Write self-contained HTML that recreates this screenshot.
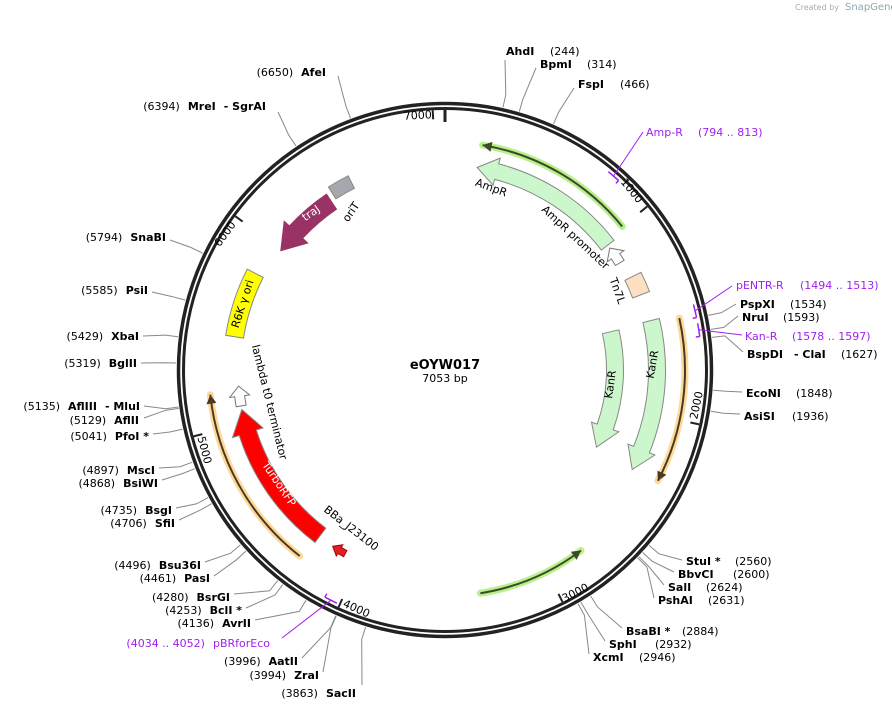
<!DOCTYPE html>
<html><head><meta charset="utf-8"><style>
html,body{margin:0;padding:0;background:#fff;width:892px;height:711px;overflow:hidden}
svg{display:block}
text{font-family:"DejaVu Sans","Liberation Sans",sans-serif;font-size:11px;fill:#000}
.b{font-weight:bold}
.p{fill:#a020f0}
</style></head><body>
<svg id="s" width="892" height="711" viewBox="0 0 892 711" xmlns="http://www.w3.org/2000/svg">
<g id="g"></g>
<text x="795" y="10" style="font-size:8px;fill:#aaa">Created by</text>
<text x="845" y="10" style="font-size:10px;fill:#8aa">SnapGene</text>

<text transform="translate(418,119) rotate(-3)" text-anchor="middle">7000</text>
<text transform="translate(629,193) rotate(51)" text-anchor="middle">1000</text>
<text transform="translate(700,406) rotate(-78)" text-anchor="middle">2000</text>
<text transform="translate(577,596) rotate(-27)" text-anchor="middle">3000</text>
<text transform="translate(355,612) rotate(24)" text-anchor="middle">4000</text>
<text transform="translate(201,451) rotate(75)" text-anchor="middle">5000</text>
<text transform="translate(228,236) rotate(-54)" text-anchor="middle">6000</text>

<text x="445" y="369" text-anchor="middle" class="b" style="font-size:13px">eOYW017</text>
<text x="445" y="382" text-anchor="middle">7053 bp</text>

<text transform="translate(490,191) rotate(20)" text-anchor="middle">AmpR</text>
<text transform="translate(573,240) rotate(43)" text-anchor="middle">AmpR promoter</text>
<text transform="translate(614,292) rotate(70)" text-anchor="middle">Tn7L</text>
<text transform="translate(614,385) rotate(-82)" text-anchor="middle">KanR</text>
<text transform="translate(656,365) rotate(-80)" text-anchor="middle">KanR</text>
<text transform="translate(313,216) rotate(-35)" text-anchor="middle" style="fill:#fff">traJ</text>
<text transform="translate(354,214) rotate(-55)" text-anchor="middle">oriT</text>
<text transform="translate(246,305) rotate(-72)" text-anchor="middle">R6K γ ori</text>
<text transform="translate(266,403) rotate(76)" text-anchor="middle">lambda t0 terminator</text>
<text id="rfp" transform="translate(276,486) rotate(56)" text-anchor="middle" style="fill:#fff">TurboRFP</text>
<text transform="translate(349,531) rotate(38)" text-anchor="middle">BBa_J23100</text>

<text x="506" y="55"><tspan class="b">AhdI</tspan><tspan x="550">(244)</tspan></text>
<text x="540" y="68"><tspan class="b">BpmI</tspan><tspan x="587">(314)</tspan></text>
<text x="578" y="88"><tspan class="b">FspI</tspan><tspan x="620">(466)</tspan></text>
<text x="646" y="136" class="p">Amp-R<tspan x="698">(794 .. 813)</tspan></text>
<text x="736" y="289" class="p">pENTR-R<tspan x="800">(1494 .. 1513)</tspan></text>
<text x="740" y="308"><tspan class="b">PspXI</tspan><tspan x="790">(1534)</tspan></text>
<text x="742" y="321"><tspan class="b">NruI</tspan><tspan x="783">(1593)</tspan></text>
<text x="745" y="340" class="p">Kan-R<tspan x="792">(1578 .. 1597)</tspan></text>
<text x="747" y="358"><tspan class="b">BspDI</tspan><tspan x="794" class="b">- ClaI</tspan><tspan x="841">(1627)</tspan></text>
<text x="746" y="397"><tspan class="b">EcoNI</tspan><tspan x="796">(1848)</tspan></text>
<text x="744" y="420"><tspan class="b">AsiSI</tspan><tspan x="792">(1936)</tspan></text>
<text x="686" y="565"><tspan class="b">StuI *</tspan><tspan x="735">(2560)</tspan></text>
<text x="678" y="578"><tspan class="b">BbvCI</tspan><tspan x="733">(2600)</tspan></text>
<text x="668" y="591"><tspan class="b">SalI</tspan><tspan x="706">(2624)</tspan></text>
<text x="658" y="604"><tspan class="b">PshAI</tspan><tspan x="708">(2631)</tspan></text>
<text x="626" y="635"><tspan class="b">BsaBI *</tspan><tspan x="682">(2884)</tspan></text>
<text x="609" y="648"><tspan class="b">SphI</tspan><tspan x="655">(2932)</tspan></text>
<text x="593" y="661"><tspan class="b">XcmI</tspan><tspan x="639">(2946)</tspan></text>

<g text-anchor="end">
<text x="326" y="76">(6650)<tspan dx="8" class="b">AfeI</tspan></text>
<text x="266" y="110">(6394)<tspan dx="8" class="b">MreI</tspan><tspan dx="8" class="b">- SgrAI</tspan></text>
<text x="166" y="241">(5794)<tspan dx="8" class="b">SnaBI</tspan></text>
<text x="148" y="294">(5585)<tspan dx="8" class="b">PsiI</tspan></text>
<text x="139" y="340">(5429)<tspan dx="8" class="b">XbaI</tspan></text>
<text x="137" y="367">(5319)<tspan dx="8" class="b">BglII</tspan></text>
<text x="140" y="410">(5135)<tspan dx="8" class="b">AflIII</tspan><tspan dx="8" class="b">- MluI</tspan></text>
<text x="139" y="424">(5129)<tspan dx="8" class="b">AflII</tspan></text>
<text x="149" y="440">(5041)<tspan dx="8" class="b">PfoI *</tspan></text>
<text x="155" y="474">(4897)<tspan dx="8" class="b">MscI</tspan></text>
<text x="158" y="487">(4868)<tspan dx="8" class="b">BsiWI</tspan></text>
<text x="172" y="514">(4735)<tspan dx="8" class="b">BsgI</tspan></text>
<text x="175" y="527">(4706)<tspan dx="8" class="b">SfiI</tspan></text>
<text x="201" y="569">(4496)<tspan dx="8" class="b">Bsu36I</tspan></text>
<text x="210" y="582">(4461)<tspan dx="8" class="b">PasI</tspan></text>
<text x="230" y="601">(4280)<tspan dx="8" class="b">BsrGI</tspan></text>
<text x="242" y="614">(4253)<tspan dx="8" class="b">BclI *</tspan></text>
<text x="251" y="627">(4136)<tspan dx="8" class="b">AvrII</tspan></text>
<text x="270" y="647" class="p">(4034 .. 4052)<tspan dx="8">pBRforEco</tspan></text>
<text x="298" y="665">(3996)<tspan dx="8" class="b">AatII</tspan></text>
<text x="319" y="679">(3994)<tspan dx="8" class="b">ZraI</tspan></text>
<text x="356" y="697">(3863)<tspan dx="8" class="b">SacII</tspan></text>
</g>
</svg>
<script>
const NS="http://www.w3.org/2000/svg",cx=445,cy=370,g=document.getElementById('g');
function P(r,a){const t=a*Math.PI/180;return [cx+r*Math.sin(t),cy-r*Math.cos(t)];}
function el(n,at){const e=document.createElementNS(NS,n);for(const k in at)e.setAttribute(k,at[k]);g.appendChild(e);return e;}
function L(p){return p[0].toFixed(1)+' '+p[1].toFixed(1);}
function arc(r,a1,a2){const l=(a2-a1)>180?1:0;return 'M'+L(P(r,a1))+' A'+r+' '+r+' 0 '+l+' 1 '+L(P(r,a2));}
function arrow(a1,a2,r,w,hl,ext,dir,fill,stroke,sw){
 const ro=r+w/2,ri=r-w/2,h=hl/r*180/Math.PI;let d;
 if(dir==='cw'){const b=Math.max(a1,a2-h);
  d='M'+L(P(ri,a1))+' L'+L(P(ro,a1))+' A'+ro+' '+ro+' 0 0 1 '+L(P(ro,b))+' L'+L(P(ro+ext,b))+' L'+L(P(r,a2))+' L'+L(P(ri-ext,b))+' L'+L(P(ri,b))+' A'+ri+' '+ri+' 0 0 0 '+L(P(ri,a1))+' Z';}
 else if(dir==='ccw'){const b=Math.min(a2,a1+h);
  d='M'+L(P(ro,a2))+' L'+L(P(ri,a2))+' A'+ri+' '+ri+' 0 0 0 '+L(P(ri,b))+' L'+L(P(ri-ext,b))+' L'+L(P(r,a1))+' L'+L(P(ro+ext,b))+' L'+L(P(ro,b))+' A'+ro+' '+ro+' 0 0 1 '+L(P(ro,a2))+' Z';}
 else {d='M'+L(P(ri,a1))+' L'+L(P(ro,a1))+' A'+ro+' '+ro+' 0 0 1 '+L(P(ro,a2))+' L'+L(P(ri,a2))+' A'+ri+' '+ri+' 0 0 0 '+L(P(ri,a1))+' Z';}
 el('path',{d:d,fill:fill,stroke:stroke,'stroke-width':sw||1});}
function fline(a1,a2,r,glow,col,dir){
 el('path',{d:arc(r,a1,a2),fill:'none',stroke:glow,'stroke-width':7,'stroke-linecap':'round'});
 el('path',{d:arc(r,a1,a2),fill:'none',stroke:col,'stroke-width':2});
 const h=9/r*180/Math.PI;
 if(dir==='ccw'){el('path',{d:'M'+L(P(r,a1))+' L'+L(P(r+5,a1+h))+' L'+L(P(r-5,a1+h))+' Z',fill:col});}
 else{el('path',{d:'M'+L(P(r,a2))+' L'+L(P(r+5,a2-h))+' L'+L(P(r-5,a2-h))+' Z',fill:col});}}
el('circle',{cx:cx,cy:cy,r:266.5,fill:'none',stroke:'#222','stroke-width':3.5});
el('circle',{cx:cx,cy:cy,r:261.5,fill:'none',stroke:'#222','stroke-width':3});
for(let k=1;k<=7;k++){const a=k*1000/7053*360;el('path',{d:'M'+L(P(260,a))+' L'+L(P(251,a)),stroke:'#222','stroke-width':2});}
el('path',{d:'M'+L(P(263,0))+' L'+L(P(248,0)),stroke:'#222','stroke-width':3});
const lines=[[244,505,60],[314,536,68],[466,574,88],[6650,338,76],[6394,278,112],[5794,170,240],[5585,152,292],[5429,143,336],[5319,141,363],[5135,144,406],[5129,144,418],[5041,153,434],[4897,159,468],[4868,162,480],[4735,176,508],[4706,179,520],[4496,205,562],[4461,214,576],[4280,234,594],[4253,246,608],[4136,255,620],[3996,302,658],[3994,323,672],[3863,362,685],
[1534,736,304],[1593,738,316],[1627,743,352],[1848,742,392],[1936,740,414],[2560,682,560],[2600,674,572],[2624,664,585],[2631,654,598],[2884,622,628],[2932,605,641],[2946,589,654]];
for(const [bp,x,y] of lines){const a=bp/7053*360;el('path',{d:'M'+L(P(269,a))+' L'+L(P(282,a))+' L'+x+' '+y,fill:'none',stroke:'#888','stroke-width':1});}
const pr=[[803,643,132],[1503,732,286],[1587,742,335],[4043,282,638]];
for(const [bp,x,y] of pr){const a=bp/7053*360;const p=P(257,a);
 el('path',{d:'M'+L(P(257,a-1.5))+' L'+L(P(257,a+1.5))+' M'+L(P(257,a+1.5))+' L'+L(P(253,a+1.5)),stroke:'#a020f0','stroke-width':1.5,fill:'none'});
 el('path',{d:'M'+L(p)+' L'+x+' '+y,stroke:'#a020f0','stroke-width':1,fill:'none'});}
fline(9.5,51,228,'#b8f08a','#3d4a2a','ccw');
fline(77.5,117.5,240,'#fdd99a','#4a3a20','cw');
fline(143,171,226,'#b8f08a','#3d4a2a','ccw');
fline(218,264,236,'#fdd99a','#4a3a20','cw');
arrow(9,52.5,205,16,20,6,'ccw','#ccf7cc','#888');
arrow(53.5,58.5,205,10,10,5,'ccw','#fff','#777');
arrow(63.5,69,210,18,0,0,'box','#fde0c2','#888');
arrow(77,117,170,17,22,6,'cw','#ccf7cc','#888');
arrow(76.5,118,212,17,22,6,'cw','#ccf7cc','#888');
arrow(306,326,203,18,24,7,'ccw','#993366','#993366');
arrow(327.5,333.5,210,14,0,0,'box','#a5a9ae','#888');
arrow(279,297,213,18,0,0,'box','#ffff00','#888');
arrow(217,259,207,18,24,7,'cw','#ff0000','#888');
arrow(260,265.5,207,10,10,5,'cw','#fff','#777');
arrow(208.5,212.5,209,7,8,3,'cw','#e02020','#a00');
</script>
</body></html>
